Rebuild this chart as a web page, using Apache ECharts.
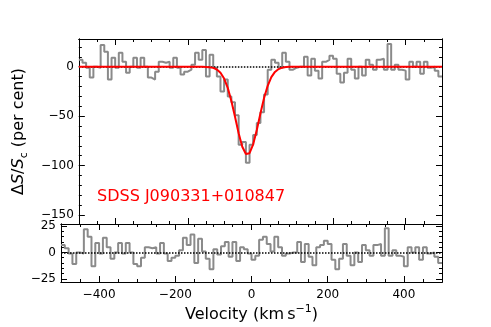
<!DOCTYPE html>
<html>
<head>
<meta charset="utf-8">
<script src="https://cdn.jsdelivr.net/npm/echarts@6/dist/echarts.min.js"></script>
<style>
  html, body { margin: 0; padding: 0; background: #fff; }
  #chart { width: 491px; height: 327px; }
</style>
</head>
<body>
<div id="chart"></div>
<script>
// channels: 10 km/s wide, first left edge at -500 km/s
const vStart = -500, dv = 10;

// Delta S / S_c in per cent, one value per channel
const spectrum = [
  7, 4, -1, -11, 0, -1, 22, 15, -13, 9,
  -1, 14, 5, -6, 0, 9, -1, 9, 0, -11,
  -13, -5, 5, 4, 5, -1, 9, -1, -8, -5,
  -3, 2, 14, 7, 17, -10, 12, -1, -10, -25,
  -13, -30, -36, -49, -79, -76, -97, -79, -69, -57,
  -46, -28, -3, 7, 4, -1, 14, 5, -3, -1,
  0, 0, 10, -9, 8, -4, -12, 5, 7, 11,
  8, -7, -16, -6, 8, -3, -12, 0, -9, 7,
  2, -3, 7, 8, -3, 23, -3, 2, -3, -4,
  -13, 5, 0, 5, -7, 5, -1, 0, -4, -10
];

// residuals after the fit, same channels
const residual = [
  7, 4, -1, -11, 0, -1, 22, 15, -13, 9,
  -1, 14, 5, -6, 0, 9, -1, 9, 0, -11,
  -13, -5, 5, 4, 5, -1, 9, -1, -8, -5,
  -3, 2, 14, 7, 17, -10, 13, 1, -6, -16,
  3, -2, 6, 10, -4, 10, -8, 5, 3, -1,
  -7, -3, 12, 15, 8, 1, 15, 5, -3, -1,
  0, 0, 10, -9, 8, -4, -12, 5, 7, 11,
  8, -7, -16, -6, 8, -3, -12, 0, -9, 7,
  2, -3, 7, 8, -3, 23, -3, 2, -3, -4,
  -13, 5, 0, 5, -7, 5, -1, 0, -4, -10
];

// gaussian fit
const fitVel = [-500, -170, -160, -150, -140, -130, -120, -110, -100, -90, -80, -70, -60, -50, -40,
  -30, -20, -10, 0, 10, 20, 30, 40, 50, 60, 70, 80, 90, 100, 500];
const fitVal = [0, 0, -0.05, -0.2, -0.5, -1.2, -2.8, -6.1, -12.0, -21.4, -34.6, -50.6, -67.2, -80.9, -88.3,
  -87.4, -78.5, -64.0, -47.3, -31.7, -19.3, -10.6, -5.3, -2.4, -1.0, -0.4, -0.1, 0, 0, 0];

// ticks
const xMajor = [-400, -200, 0, 200, 400];
const xMinor = [-450, -350, -300, -250, -150, -100, -50, 50, 100, 150, 250, 300, 350, 450];
const yTopMajor = [-150, -100, -50, 0];
const yTopMinor = [-150, -140, -130, -120, -110, -100, -90, -80, -70, -60, -50, -40, -30, -20, -10, 0, 10, 20];
const yResMajor = [-25, 0, 25];
const yResMinor = [-25, -20, -15, -10, -5, 0, 5, 10, 15, 20, 25];

const FONT = 'DejaVu Sans';

function steps(vals) {
  const pts = vals.map((v, i) => [vStart + i * dv, v]);
  pts.push([vStart + vals.length * dv, vals[vals.length - 1]]);
  return pts;
}

function minus(v) { return String(v).replace('-', '\u2212'); }

function ax(grid, pos, min, max, ticks, len, extra) {
  return Object.assign({
    type: 'value', gridIndex: grid, position: pos, min: min, max: max,
    axisLine: { show: true, onZero: false, lineStyle: { color: '#000', width: 1 } },
    axisTick: { show: true, inside: true, length: len, customValues: ticks, lineStyle: { color: '#000', width: 1 } },
    axisLabel: { show: false },
    splitLine: { show: false }
  }, extra || {});
}

function labels(ticks, margin) {
  return { show: true, customValues: ticks, formatter: minus, color: '#000', fontSize: 12, fontFamily: FONT, margin: margin };
}

const topY = [-159, 28];
const resY = [-28, 27];

let myChart = echarts.init(document.getElementById('chart'));
myChart.setOption({
  backgroundColor: '#fff',
  animation: false,
  grid: [
    { left: 61, top: 39, width: 381, height: 185 },
    { left: 61, top: 224, width: 381, height: 62 }
  ],
  xAxis: [
    ax(0, 'bottom', -500, 500, xMinor, 3),
    ax(0, 'bottom', -500, 500, xMajor, 6),
    ax(0, 'top', -500, 500, xMinor, 3),
    ax(0, 'top', -500, 500, xMajor, 6),
    ax(1, 'bottom', -500, 500, xMinor, 3),
    ax(1, 'bottom', -500, 500, xMajor, 6, {
      axisLabel: labels(xMajor, 7),
      name: 'Velocity (km\u2009s{sup|\u22121})',
      nameLocation: 'middle', nameGap: 22,
      nameTextStyle: { fontSize: 16, fontFamily: FONT, color: '#000', lineHeight: 22,
        rich: { sup: { fontSize: 11, fontFamily: FONT, verticalAlign: 'top', color: '#000' } } }
    }),
    ax(1, 'top', -500, 500, xMinor, 3),
    ax(1, 'top', -500, 500, xMajor, 6)
  ],
  yAxis: [
    ax(0, 'left', topY[0], topY[1], yTopMinor, 3),
    ax(0, 'left', topY[0], topY[1], yTopMajor, 6, {
      axisLabel: labels(yTopMajor, 5),
      name: '\u0394{i|S}/{i|S}{sub|c} (per cent)',
      nameLocation: 'middle', nameGap: 34, nameRotate: 90,
      nameTextStyle: { fontSize: 16, fontFamily: FONT, color: '#000', lineHeight: 22,
        rich: {
          i: { fontSize: 16, fontFamily: FONT, fontStyle: 'italic', color: '#000' },
          sub: { fontSize: 11, fontFamily: FONT, verticalAlign: 'bottom', color: '#000' }
        } }
    }),
    ax(0, 'right', topY[0], topY[1], yTopMinor, 3),
    ax(0, 'right', topY[0], topY[1], yTopMajor, 6),
    ax(1, 'left', resY[0], resY[1], yResMinor, 3),
    ax(1, 'left', resY[0], resY[1], yResMajor, 6, { axisLabel: labels(yResMajor, 5) }),
    ax(1, 'right', resY[0], resY[1], yResMinor, 3),
    ax(1, 'right', resY[0], resY[1], yResMajor, 6)
  ],
  graphic: [{
    type: 'text', left: 97, top: 189,
    style: { text: 'SDSS J090331+010847', fill: '#ff0000', fontSize: 16, fontFamily: FONT }
  }],
  series: [
    {
      name: 'spectrum', type: 'line', xAxisIndex: 0, yAxisIndex: 0,
      data: steps(spectrum), step: 'end', showSymbol: false, z: 2,
      lineStyle: { color: '#8a8a8a', width: 2 },
      markLine: {
        silent: true, symbol: 'none', label: { show: false },
        lineStyle: { color: '#000', type: 'dotted', width: 1.5 },
        data: [{ yAxis: 0 }]
      }
    },
    {
      name: 'fit', type: 'line', xAxisIndex: 0, yAxisIndex: 0,
      data: fitVel.map((v, i) => [v, fitVal[i]]), showSymbol: false, z: 5,
      lineStyle: { color: '#ff0000', width: 2 }
    },
    {
      name: 'residual', type: 'line', xAxisIndex: 4, yAxisIndex: 4,
      data: steps(residual), step: 'end', showSymbol: false, z: 2,
      lineStyle: { color: '#8a8a8a', width: 2 },
      markLine: {
        silent: true, symbol: 'none', label: { show: false },
        lineStyle: { color: '#000', type: 'dotted', width: 1.5 },
        data: [{ yAxis: 0 }]
      }
    }
  ]
});
</script>
</body>
</html>
